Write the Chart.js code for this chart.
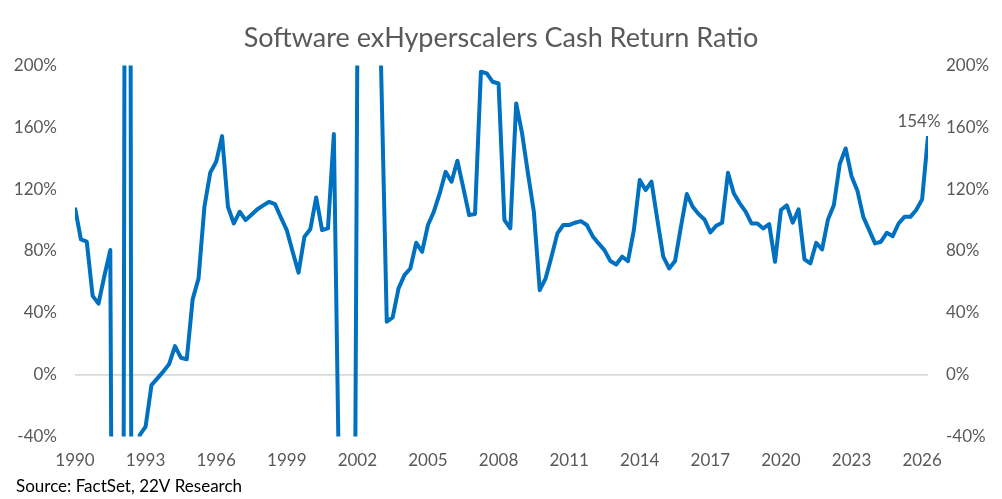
<!DOCTYPE html>
<html>
<head>
<meta charset="utf-8">
<title>Software exHyperscalers Cash Return Ratio</title>
<script src="https://cdn.jsdelivr.net/npm/chart.js@4.4.1/dist/chart.umd.min.js"></script>
<style>
  html, body { margin: 0; padding: 0; background: #fff; }
  #wrap { width: 1002px; height: 499px; position: relative; }
</style>
</head>
<body>
<div id="wrap"><canvas id="chart"></canvas></div>
<script>
// quarterly series, 1990 Q1 .. 2026 Q2 (values in %)
const firstYear = 1990;
const xTickYears = [1990, 1993, 1996, 1999, 2002, 2005, 2008, 2011, 2014, 2017, 2020, 2023, 2026];
const yTicks = [-40, 0, 40, 80, 120, 160, 200];

const ratio1990s = [108, 87.5, 86, 51, 46, 64, 80.6, -720, -600, 1400,
  -1200, -39, -33.6, -6.7, -2.4, 2, 6.9, 18.5, 11, 10,
  48.7, 62.3, 108.6, 130.8, 137.7, 154.3, 108.6, 97.8, 105.4, 100,
  103.4, 107, 109.5, 111.8, 110.3, 101.7, 93.5, 79.5, 66, 89.2];
const ratio2000s = [94, 114.6, 93.5, 94.6, 155.6, -102, -300, -540, 215, 600,
  800, 500, 204, 34.3, 37.1, 55.8, 64.4, 68.7, 85.3, 79.5,
  96.8, 105.4, 117.2, 131.2, 124.8, 138.4, 121, 103.2, 103.9, 195.9,
  194.8, 189.4, 188.3, 100, 94.6, 175.4, 156, 130.2, 105.4, 54.7];
const ratio2010s = [62.3, 76.3, 91.4, 96.8, 96.8, 98.3, 99.3, 96.8, 89.6, 84.9,
  80.6, 73.5, 71.3, 76.3, 73.5, 93.5, 125.9, 119.4, 124.8, 100,
  76.3, 68.7, 73.5, 95.7, 116.8, 108.6, 103.9, 100.4, 92, 96.3,
  98.3, 130.6, 117.2, 110.8, 105.4, 97.8, 97.8, 94.6, 97.4, 73];
const ratio2020s = [106.5, 109.5, 98.3, 106.9, 74.6, 72, 85.3, 81, 100.4, 109.7,
  136.2, 146.3, 128.4, 119, 102.1, 93.5, 84.9, 86, 91.8, 89.6,
  97.8, 102.1, 102.1, 106.5, 113.4, 154.3];

const values = [...ratio1990s, ...ratio2000s, ...ratio2010s, ...ratio2020s];
const labels = values.map((v, i) => `${firstYear + Math.floor(i / 4)} Q${(i % 4) + 1}`);

const FONT = 'Lato, "Open Sans", sans-serif';
const GREY = '#595959';
const BLUE = '#0070C0';

// label over the latest reading
const lastValueLabel = {
    id: 'lastValueLabel',
    afterDatasetsDraw(chart) {
        const meta = chart.getDatasetMeta(0);
        const pt = meta.data[meta.data.length - 1];
        const ctx = chart.ctx;
        ctx.save();
        ctx.font = `17px ${FONT}`;
        ctx.fillStyle = GREY;
        ctx.textAlign = 'center';
        ctx.textBaseline = 'middle';
        ctx.fillText(`${Math.round(values[values.length - 1])}%`, pt.x - 9, pt.y - 15);
        ctx.restore();
    }
};

const sourceNote = {
    id: 'sourceNote',
    afterDraw(chart) {
        const ctx = chart.ctx;
        ctx.save();
        ctx.font = `17px ${FONT}`;
        ctx.fillStyle = '#000';
        ctx.textAlign = 'left';
        ctx.textBaseline = 'middle';
        ctx.fillText('Source: FactSet, 22V Research', 16, chart.height - 12);
        ctx.restore();
    }
};

const pctAxis = (position, width) => ({
    type: 'linear',
    position: position,
    min: -40,
    max: 200,
    afterBuildTicks: scale => { scale.ticks = yTicks.map(v => ({ value: v })); },
    afterFit: scale => { scale.width = width; },
    border: { display: false },
    grid: {
        drawTicks: false,
        lineWidth: 1.5,
        color: c => (c.tick && c.tick.value === 0 ? '#d9d9d9' : 'rgba(0,0,0,0)')
    },
    ticks: {
        padding: 18,
        color: GREY,
        font: { family: FONT, size: 17 },
        callback: v => `${v}%`
    }
});

new Chart(document.getElementById('chart'), {
    type: 'line',
    data: {
        labels: labels,
        datasets: [{
            label: 'Cash Return Ratio',
            data: values,
            borderColor: BLUE,
            borderWidth: 4,
            pointRadius: 0,
            tension: 0,
            borderJoinStyle: 'round',
            clip: 0,
            yAxisID: 'y'
        }]
    },
    options: {
        responsive: true,
        maintainAspectRatio: false,
        animation: false,
        layout: { padding: { left: 0, right: 0, top: 0, bottom: 14 } },
        plugins: {
            legend: { display: false },
            tooltip: { enabled: false },
            title: {
                display: true,
                text: 'Software exHyperscalers Cash Return Ratio',
                color: GREY,
                font: { family: FONT, size: 27, weight: 'normal' },
                padding: { top: 22, bottom: 11 }
            }
        },
        scales: {
            x: {
                type: 'category',
                offset: false,
                border: { display: false },
                grid: { display: false, drawTicks: false },
                ticks: {
                    autoSkip: false,
                    maxRotation: 0,
                    padding: 14,
                    color: GREY,
                    font: { family: FONT, size: 17 },
                    callback: function (val, idx) {
                        const year = firstYear + Math.floor(idx / 4);
                        return idx % 4 === 0 && xTickYears.includes(year) ? String(year) : '';
                    }
                }
            },
            y: pctAxis('left', 75),
            y2: pctAxis('right', 74)
        }
    },
    plugins: [lastValueLabel, sourceNote]
});
</script>
</body>
</html>
